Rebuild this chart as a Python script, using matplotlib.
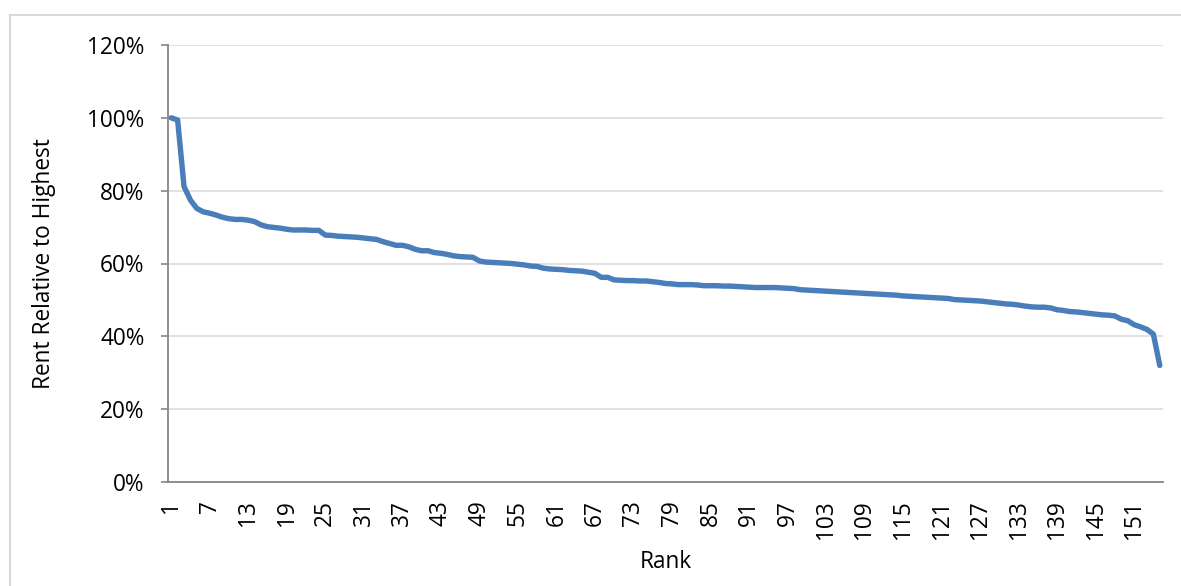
import matplotlib
matplotlib.use("Agg")
import matplotlib.pyplot as plt
from matplotlib.ticker import PercentFormatter
from matplotlib.lines import Line2D

# rent relative to highest (%), ranks 1..155
rent_pct = [
    100.0, 99.4, 81.1, 77.4, 75.1, 74.2, 73.8, 73.3, 72.7, 72.3,
    72.1, 72.1, 71.9, 71.5, 70.6, 70.1, 69.9, 69.7, 69.4, 69.2,
    69.2, 69.2, 69.1, 69.1, 67.8, 67.7, 67.5, 67.4, 67.3, 67.2,
    67.0, 66.8, 66.6, 66.0, 65.5, 65.0, 65.0, 64.6, 63.9, 63.5,
    63.5, 63.0, 62.8, 62.5, 62.1, 61.9, 61.8, 61.7, 60.7, 60.4,
    60.3, 60.2, 60.1, 60.0, 59.8, 59.6, 59.3, 59.2, 58.7, 58.5,
    58.4, 58.3, 58.1, 58.0, 57.9, 57.6, 57.3, 56.2, 56.2, 55.5,
    55.4, 55.3, 55.3, 55.2, 55.2, 55.0, 54.8, 54.5, 54.4, 54.2,
    54.2, 54.2, 54.1, 53.9, 53.9, 53.9, 53.8, 53.8, 53.7, 53.6,
    53.5, 53.4, 53.4, 53.4, 53.4, 53.3, 53.2, 53.1, 52.8, 52.7,
    52.6, 52.5, 52.4, 52.3, 52.2, 52.1, 52.0, 51.9, 51.8, 51.7,
    51.6, 51.5, 51.4, 51.3, 51.1, 51.0, 50.9, 50.8, 50.7, 50.6,
    50.5, 50.4, 50.1, 50.0, 49.9, 49.8, 49.7, 49.5, 49.3, 49.1,
    48.9, 48.8, 48.6, 48.3, 48.1, 48.0, 48.0, 47.8, 47.3, 47.1,
    46.8, 46.7, 46.5, 46.3, 46.1, 45.9, 45.8, 45.6, 44.7, 44.3,
    43.2, 42.6, 41.9, 40.6, 32.0,
]
ranks = list(range(1, len(rent_pct) + 1))
rank_ticks = list(range(1, 152, 6))
pct_ticks = [0, 20, 40, 60, 80, 100, 120]

plt.rcParams['font.family'] = ['Open Sans', 'DejaVu Sans']
fs = 16.3

fig = plt.figure(figsize=(11.81, 5.86), dpi=100)
ax = fig.add_axes([168 / 1181, 1 - 482 / 586, (1163 - 168) / 1181, (482 - 45) / 586])

# light frame around the chart area (top and left edges visible)
fig.add_artist(Line2D([10 / 1181, 1.0], [1 - 15 / 586] * 2, color='#d9d9d9', lw=1.5,
                      transform=fig.transFigure))
fig.add_artist(Line2D([10 / 1181] * 2, [0.0, 1 - 15 / 586], color='#d9d9d9', lw=1.5,
                      transform=fig.transFigure))

ax.plot(ranks, rent_pct, color='#4a7ebb', lw=3.9,
        solid_capstyle='round', solid_joinstyle='round', zorder=3)

ax.set_xlim(0.5, len(rent_pct) + 0.5)
ax.set_ylim(0, 120)
ax.set_yticks(pct_ticks)
ax.yaxis.set_major_formatter(PercentFormatter(decimals=0))
ax.set_xticks(rank_ticks)
ax.set_xticklabels([str(r) for r in rank_ticks], rotation=90)

ax.grid(axis='y', color='#d9d9d9', lw=1.1)
ax.set_axisbelow(True)
for s in ['top', 'right']:
    ax.spines[s].set_visible(False)
for s in ['left', 'bottom']:
    ax.spines[s].set_color('#868686')
    ax.spines[s].set_linewidth(1.3)

ax.tick_params(axis='y', length=5, width=1.2, color='#868686', pad=12, labelsize=fs)
ax.tick_params(axis='x', length=0, pad=13, labelsize=fs)

ax.set_xlabel('Rank', fontsize=fs, labelpad=8)
ax.set_ylabel('Rent Relative to Highest', fontsize=fs, labelpad=22)

fig.savefig('out.png', dpi=100)
